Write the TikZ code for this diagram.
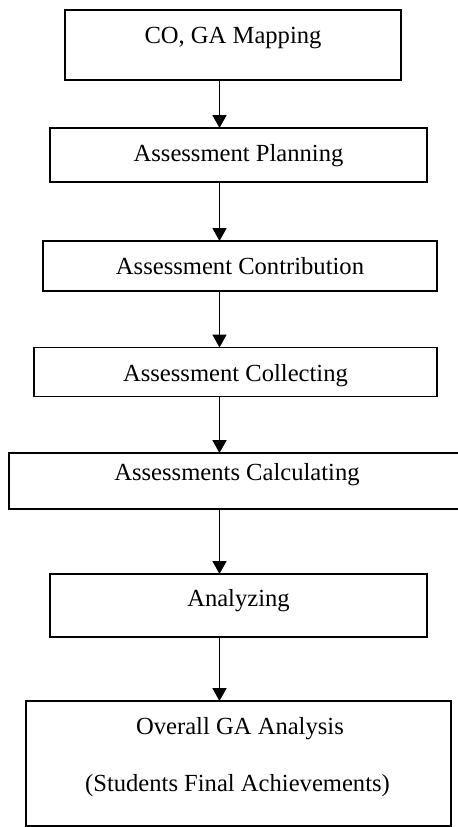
\documentclass[tikz,border=0pt]{standalone}
\usepackage{fontspec}
\setmainfont{Liberation Serif}
\usetikzlibrary{arrows.meta}

\begin{document}
\begin{tikzpicture}[stage/.style={draw,rectangle,line width=1pt,inner sep=0pt,outer sep=0pt},
    caption/.style={anchor=base,inner sep=0pt,font=\fontsize{14pt}{17pt}\selectfont},
    flow/.style={line width=1pt,-{Triangle[width=0.28cm,length=0.26cm]}}]
    \useasboundingbox (0,0) rectangle (9.16,-16.54);
    \coordinate (axis) at (4.39,0);

    \node[stage,minimum width=6.72cm,minimum height=1.40cm] (map) at (4.66,-0.90) {};
    \node[caption] (maptxt) at (4.66,-0.87) {CO, GA Mapping};

    \node[stage,minimum width=7.54cm,minimum height=1.08cm] (plan) at (4.77,-3.10) {};
    \node[caption] (plantxt) at (4.77,-3.23) {Assessment Planning};

    \node[stage,minimum width=7.88cm,minimum height=1.00cm] (contrib) at (4.80,-5.32) {};
    \node[caption] (contribtxt) at (4.80,-5.48) {Assessment Contribution};

    \node[stage,minimum width=8.06cm,minimum height=0.98cm] (collect) at (4.71,-7.44) {};
    \node[caption] (collecttxt) at (4.71,-7.63) {Assessment Collecting};

    % this one runs off the right edge
    \node[stage,minimum width=9.22cm,minimum height=1.12cm] (calc) at (4.79,-9.62) {};
    \node[caption] (calctxt) at (4.74,-9.60) {Assessments Calculating};

    \node[stage,minimum width=7.54cm,minimum height=1.26cm] (analyze) at (4.77,-12.11) {};
    \node[caption] (analyzetxt) at (4.77,-12.13) {Analyzing};

    \node[stage,minimum width=8.50cm,minimum height=2.50cm] (overall) at (4.77,-15.27) {};
    \node[caption] (overalltxt) at (4.80,-14.68) {Overall GA Analysis};
    \node[caption] (finaltxt) at (4.75,-15.82) {(Students Final Achievements)};

    \draw[flow] (map.south -| axis) -- (plan.north -| axis);
    \draw[flow] (plan.south -| axis) -- (contrib.north -| axis);
    \draw[flow] (contrib.south -| axis) -- (collect.north -| axis);
    \draw[flow] (collect.south -| axis) -- (calc.north -| axis);
    \draw[flow] (calc.south -| axis) -- (analyze.north -| axis);
    \draw[flow] (analyze.south -| axis) -- (overall.north -| axis);
  \end{tikzpicture}
\end{document}
